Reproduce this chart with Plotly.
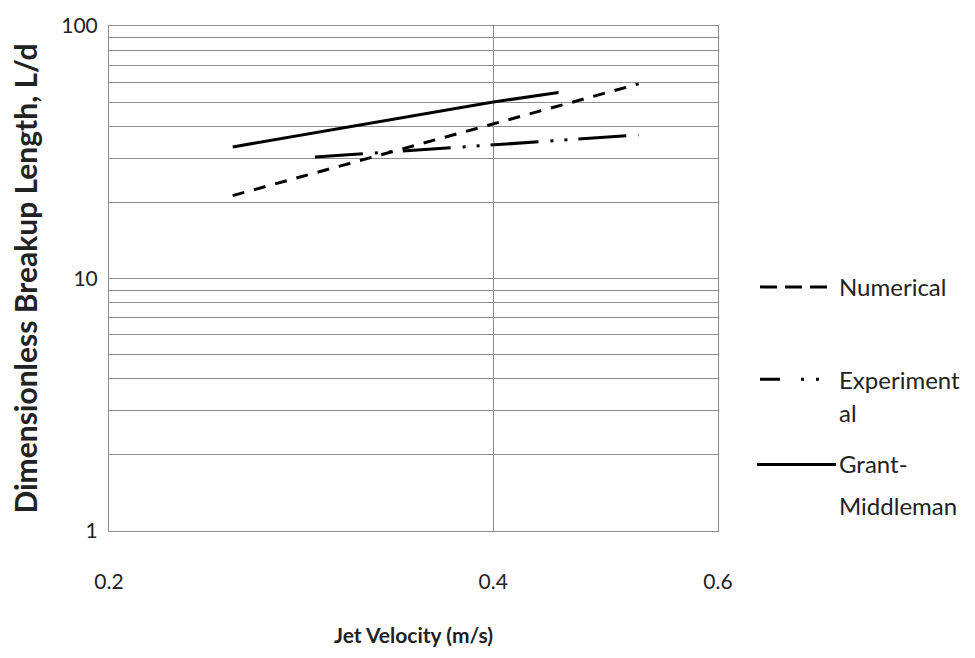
import plotly.graph_objects as go

# Jet velocity (m/s) and dimensionless breakup length L/d for each series
vel_numerical = [0.25, 0.40, 0.52]
ld_numerical = [21.3, 41.0, 59.0]

vel_experimental = [0.29, 0.40, 0.52]
ld_experimental = [30.3, 33.9, 37.0]

vel_grant = [0.25, 0.40, 0.45]
ld_grant = [33.2, 50.0, 54.5]

x_ticks = [0.2, 0.4, 0.6]
x_tick_text = ["0.2", "0.4", "0.6"]
y_ticks = [1, 2, 3, 4, 5, 6, 7, 8, 9, 10, 20, 30, 40, 50, 60, 70, 80, 90, 100]
y_tick_text = ["1", "", "", "", "", "", "", "", "", "10",
               "", "", "", "", "", "", "", "", "100"]

FONT = "Lato"
W, H = 975, 658
L, R, T, B = 109, 718, 22, 531  # plot area edges in pixels

def px(x):
    return (x - L) / (R - L)

def py(y):
    return (B - y) / (B - T)

fig = go.Figure()
line_w = 3
fig.add_trace(go.Scatter(x=vel_numerical, y=ld_numerical, mode="lines",
                         name="Numerical",
                         line=dict(color="black", width=line_w, dash="12px,10px")))
fig.add_trace(go.Scatter(x=vel_experimental, y=ld_experimental, mode="lines",
                         name="Experimental",
                         line=dict(color="black", width=line_w,
                                   dash="48px,12px,3px,11px,3px,11px")))
fig.add_trace(go.Scatter(x=vel_grant, y=ld_grant, mode="lines",
                         name="Grant-Middleman",
                         line=dict(color="black", width=line_w)))

# Hand-drawn legend on the right
shapes = [
    dict(type="line", xref="paper", yref="paper", x0=px(760), x1=px(827),
         y0=py(285), y1=py(285), line=dict(color="black", width=3, dash="17px,8px")),
    dict(type="line", xref="paper", yref="paper", x0=px(760), x1=px(820),
         y0=py(378), y1=py(378),
         line=dict(color="black", width=3, dash="20px,21px,3px,12px,3px,40px")),
    dict(type="line", xref="paper", yref="paper", x0=px(757), x1=px(836),
         y0=py(464), y1=py(464), line=dict(color="black", width=3)),
]
legend_text = [("Numerical", 285), ("Experiment", 378), ("al", 412),
               ("Grant-", 463), ("Middleman", 505)]
annotations = [
    dict(text=t, xref="paper", yref="paper", x=px(837), y=py(yy),
         xanchor="left", yanchor="middle", showarrow=False,
         font=dict(family=FONT, size=24, color="#222"))
    for t, yy in legend_text
]

fig.update_layout(
    width=W, height=H,
    margin=dict(l=L, r=W - R, t=T, b=H - B, pad=0),
    paper_bgcolor="white", plot_bgcolor="white",
    showlegend=False,
    shapes=shapes, annotations=annotations,
    font=dict(family=FONT, size=21, color="#222"),
    xaxis=dict(type="log", range=[-0.69897, -0.221849],
               tickvals=x_ticks, ticktext=x_tick_text,
               showgrid=True, gridcolor="#8c8c8c", gridwidth=1,
               showline=True, linecolor="#8c8c8c", linewidth=1, mirror=True,
               ticks="", ticklabelstandoff=32, zeroline=False,
               tickfont=dict(family=FONT, size=21, color="#222"),
               title=dict(text="<b>Jet Velocity (m/s)</b>", standoff=36,
                          font=dict(family=FONT, size=21, color="#222"))),
    yaxis=dict(type="log", range=[0, 2],
               tickvals=y_ticks, ticktext=y_tick_text,
               showgrid=True, gridcolor="#8c8c8c", gridwidth=1,
               showline=True, linecolor="#8c8c8c", linewidth=1, mirror=True,
               ticks="", ticklabelstandoff=6, zeroline=False,
               tickfont=dict(family=FONT, size=21, color="#222"),
               title=dict(text="<b>Dimensionless Breakup Length, L/d</b>",
                          standoff=14,
                          font=dict(family=FONT, size=30, color="#222"))),
)

fig.write_html("out.html")
